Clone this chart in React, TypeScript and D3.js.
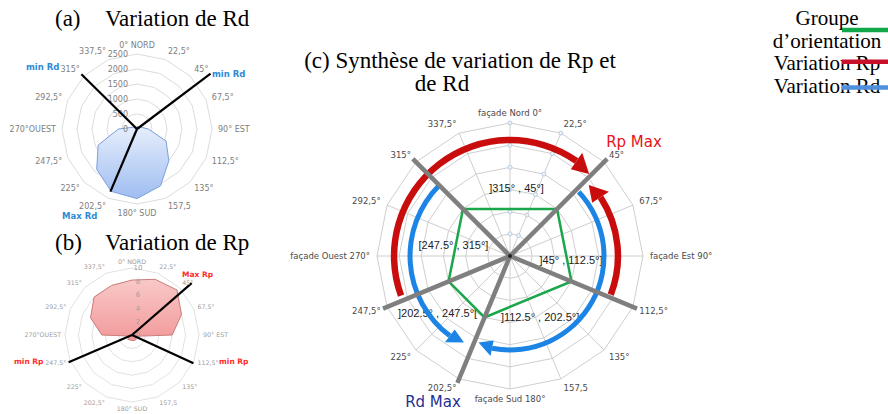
import React from 'react';
import * as d3 from 'd3';

// directions (16 spokes, clockwise from north)
const dirAB = ['0° NORD', '22,5°', '45°', '67,5°', '90° EST', '112,5°', '135°', '157,5', '180° SUD', '202,5°', '225°', '247,5°', '270°OUEST', '292,5°', '315°', '337,5°'];
const dirC = ['façade Nord 0°', '22,5°', '45°', '67,5°', 'façade Est 90°', '112,5°', '135°', '157,5', 'façade Sud 180°', '202,5°', '225°', '247,5°', 'façade Ouest 270°', '292,5°', '315°', '337,5°'];

// (a) Rd per direction
const rdValues = [80, 80, 0, 150, 380, 1050, 1500, 2050, 2320, 2250, 1900, 1400, 620, 150, 0, 60];
const rdTicks = [0, 500, 1000, 1500, 2000, 2500];
const rdMarks = [
  { label: 'min Rd', angle: 314.5, reach: 2600 },
  { label: 'min Rd', angle: 53, reach: 3070 },
  { label: 'Max Rd', angle: 203, reach: 2270 },
];

// (b) Rp per direction
const rpValues = [8.2, 9.0, 9.5, 8.0, 6.0, 0.5, 0.9, 0.9, 0.8, 0.8, 0.9, 0.4, 4.5, 6.7, 8.0, 8.0];
const rpTicks = [0, 2, 4, 6, 8, 10];
const rpMarks = [
  { label: 'Max Rp', angle: 49, reach: 11.8 },
  { label: 'min Rp', angle: 246.7, reach: 10.3 },
  { label: 'min Rp', angle: 114.7, reach: 10.1 },
];

// (c) synthesis
const cLevels = [1, 2, 3, 4, 5, 6];
const groupBounds = [45, 112.5, 202.5, 247.5, 315];
const groupLevel = 3;
const groupNames = [']315° , 45°]', ']45° , 112.5°]', ']112.5° , 202.5°]', ']202.5° , 247.5°[', '[247.5° , 315°]'];
const groupNameAngles = [5.5, 93.8, 153.8, 231.8, 281];
const groupNameLevels = [3.08, 2.76, 3.07, 4.16, 2.6];
const markerDirs = ['façade Nord 0°', '22,5°'];
const rpArrows = [
  { from: 250, to: 35, tip: 44, level: 5.23 },
  { from: 111, to: 57, tip: 48, level: 4.87 },
];
const rdArrows = [
  { from: 47, to: 191, tip: 200, level: 4.24 },
  { from: 315, to: 217, tip: 208, level: 4.51 },
];

const legendItems = [
  { label: 'Groupe', color: '#12a84a', line: true },
  { label: 'd’orientation', color: '', line: false },
  { label: 'Variation Rp', color: '#c8102a', line: true },
  { label: 'Variation Rd', color: '#4f8fdc', line: true },
];

const deg = d3.scaleLinear().domain([0, 360]).range([0, 2 * Math.PI]);
const polar = (a: number, r: number): [number, number] => [r * Math.sin(deg(a)), -r * Math.cos(deg(a))];

function CatLabels({ cats, ang, R, size, color }: any) {
  return (
    <g fontFamily="DejaVu Sans" fontSize={size} fill={color}>
      {cats.map((c: string) => {
        const a = ang(c);
        const [x, y] = polar(a, R);
        const s = Math.sin(deg(a));
        const co = Math.cos(deg(a));
        const anchor = s > 0.05 ? 'start' : s < -0.05 ? 'end' : 'middle';
        return (
          <text key={c} x={x} y={y} dy={`${0.35 - 0.38 * co}em`} textAnchor={anchor}>{c}</text>
        );
      })}
    </g>
  );
}

function ringPath(cats: string[], ang: any, radius: number) {
  return d3.lineRadial<string>()
    .angle(d => deg(ang(d)))
    .radius(radius)
    .curve(d3.curveLinearClosed)(cats) as string;
}

export default function App() {
  // scales
  const angAB = d3.scalePoint<string>().domain(dirAB).range([0, 360 - 360 / dirAB.length]);
  const angC = d3.scalePoint<string>().domain(dirC).range([0, 360 - 360 / dirC.length]);
  const rA = d3.scaleLinear().domain([0, 2500]).range([0, 75]);
  const rB = d3.scaleLinear().domain([0, 10]).range([0, 67]);
  const rC = d3.scaleLinear().domain([0, 6]).range([0, 133]);

  const polyA = d3.lineRadial<number>()
    .angle((_, i) => deg(angAB(dirAB[i])!))
    .radius(d => rA(d))
    .curve(d3.curveLinearClosed)(rdValues) as string;
  const polyB = d3.lineRadial<number>()
    .angle((_, i) => deg(angAB(dirAB[i])!))
    .radius(d => rB(d))
    .curve(d3.curveLinearClosed)(rpValues) as string;
  const polyGroup = d3.lineRadial<number>()
    .angle(d => deg(d))
    .radius(rC(groupLevel))
    .curve(d3.curveLinearClosed)(groupBounds) as string;

  const arcGen = d3.arc<any>();
  const arrow = (d: any, color: string, w: number, head: number, i: number) => {
    const r = rC(d.level);
    const cw = ((d.tip - d.to + 360) % 360) < 180;
    let s = cw ? d.from : d.to;
    let e = cw ? d.to : d.from;
    if (e < s) e += 360;
    const path = arcGen({ innerRadius: r - w / 2, outerRadius: r + w / 2, startAngle: deg(s), endAngle: deg(e) }) as string;
    const [px, py] = polar(d.to, r);
    const nx = Math.sin(deg(d.to));
    const ny = -Math.cos(deg(d.to));
    const [tx, ty] = polar(d.tip, r - 2);
    const tri = `M${px + nx * head},${py + ny * head}L${tx},${ty}L${px - nx * head},${py - ny * head}Z`;
    return (
      <g key={i} fill={color}>
        <path d={path} />
        <path d={tri} />
      </g>
    );
  };

  return (
    <svg width={888} height={414} style={{ position: 'absolute', left: 0, top: 0, background: '#fff' }}>
      <defs>
        <linearGradient id="gradRd" x1="0" y1="0" x2="0" y2="1">
          <stop offset="0" stopColor="#e6eefc" />
          <stop offset="1" stopColor="#9fbdf1" />
        </linearGradient>
        <linearGradient id="gradRp" x1="0" y1="0" x2="0" y2="1">
          <stop offset="0" stopColor="#f9c8c8" />
          <stop offset="1" stopColor="#f29a9a" />
        </linearGradient>
      </defs>

      {/* titles */}
      <g fontFamily="Liberation Serif" fontSize={23} fill="#000">
        <text x={55} y={26}>(a)</text>
        <text x={105} y={26}>Variation de Rd</text>
        <text x={55} y={250}>(b)</text>
        <text x={105} y={250}>Variation de Rp</text>
        <text x={460} y={68} textAnchor="middle">(c) Synthèse de variation de Rp et</text>
        <text x={442} y={91} textAnchor="middle">de Rd</text>
      </g>

      {/* (a) Rd radar */}
      <g transform="translate(137,129)">
        {rdTicks.slice(1).map(t => (
          <path key={t} d={ringPath(dirAB, angAB, rA(t))} fill="none" stroke="#dcdcdc" strokeWidth={1} />
        ))}
        <path d={polyA} fill="url(#gradRd)" stroke="#7b9fd8" strokeWidth={1} />
        <g fontFamily="DejaVu Sans" fontSize={8} fill="#808080" textAnchor="end">
          {rdTicks.map(t => (
            <text key={t} x={-9} y={-rA(t)} dy="0.35em">{t}</text>
          ))}
        </g>
        {rdMarks.map((m, i) => {
          const [x, y] = polar(m.angle, rA(m.reach));
          return <line key={i} x1={0} y1={0} x2={x} y2={y} stroke="#000" strokeWidth={2.2} />;
        })}
        <CatLabels cats={dirAB} ang={angAB} R={rA(2500) + 6} size={8} color="#808080" />
      </g>
      <g fontFamily="DejaVu Sans" fontWeight="bold" fontSize={8.5} fill="#2f8ad6">
        <text x={26} y={70}>{rdMarks[0].label}</text>
        <text x={212} y={77}>{rdMarks[1].label}</text>
        <text x={62} y={219}>{rdMarks[2].label}</text>
      </g>

      {/* (b) Rp radar */}
      <g transform="translate(132,335)">
        {rpTicks.slice(1).map(t => (
          <path key={t} d={ringPath(dirAB, angAB, rB(t))} fill="none" stroke="#e2e2e2" strokeWidth={1} />
        ))}
        <path d={polyB} fill="url(#gradRp)" stroke="#c97c7c" strokeWidth={1} />
        <g fontFamily="DejaVu Sans" fontSize={7} fill="#a0a0a0" textAnchor="middle">
          {rpTicks.map(t => (
            <text key={t} x={6} y={-rB(t)} dy="0.35em">{t}</text>
          ))}
        </g>
        {rpMarks.map((m, i) => {
          const [x, y] = polar(m.angle, rB(m.reach));
          return <line key={i} x1={0} y1={0} x2={x} y2={y} stroke="#000" strokeWidth={2.2} />;
        })}
        <CatLabels cats={dirAB} ang={angAB} R={rB(10) + 4} size={6.3} color="#9c9c9c" />
      </g>
      <g fontFamily="DejaVu Sans" fontWeight="bold" fontSize={7.5} fill="#ff2b2b">
        <text x={182} y={277}>{rpMarks[0].label}</text>
        <text x={14} y={364}>{rpMarks[1].label}</text>
        <text x={219} y={364}>{rpMarks[2].label}</text>
      </g>

      {/* (c) synthesis */}
      <g transform="translate(510,256)">
        {dirC.map(c => {
          const [x, y] = polar(angC(c)!, rC(6));
          return <line key={c} x1={0} y1={0} x2={x} y2={y} stroke="#c8c8c8" strokeWidth={0.9} />;
        })}
        {cLevels.map(l => (
          <path key={l} d={ringPath(dirC, angC, rC(l))} fill="none" stroke="#c8c8c8" strokeWidth={0.9} />
        ))}
        {markerDirs.map(c => cLevels.map(l => {
          const [x, y] = polar(angC(c)!, rC(l));
          return <circle key={c + l} cx={x} cy={y} r={2} fill="#eef3f8" stroke="#a9c3dc" strokeWidth={0.8} />;
        }))}
        <CatLabels cats={dirC} ang={angC} R={rC(6) + 7} size={8.5} color="#4a4a4a" />
        <g fontFamily="Liberation Sans" fontSize={11} fill="#222" textAnchor="middle">
          {groupNames.map((n, i) => {
            const [x, y] = polar(groupNameAngles[i], rC(groupNameLevels[i]));
            return <text key={n} x={x} y={y} dy="0.35em">{n}</text>;
          })}
        </g>
        <path d={polyGroup} fill="none" stroke="#1aa64a" strokeWidth={2.5} />
        {rpArrows.map((d, i) => arrow(d, '#c90d0d', 6.5, 10, i))}
        {rdArrows.map((d, i) => arrow(d, '#1b84e4', 5, 8, i))}
        {groupBounds.map(a => {
          const [x, y] = polar(a, rC(6.2));
          return <line key={a} x1={0} y1={0} x2={x} y2={y} stroke="#7f7f7f" strokeWidth={4.5} />;
        })}
        <circle r={2} fill="#222" />
      </g>
      <g fontFamily="DejaVu Sans" fontSize={15} textAnchor="middle">
        <text x={634} y={147} fill="#e8131b">Rp Max</text>
        <text x={433} y={407} fill="#1f2f96">Rd Max</text>
      </g>

      {/* legend */}
      <g fontFamily="Liberation Serif" fontSize={21} fill="#000">
        {legendItems.map((d, i) => (
          <text key={d.label} x={827} y={25 + i * 22.7} textAnchor="middle">{d.label}</text>
        ))}
        {legendItems.filter(d => d.line).map((d, i) => (
          <line key={d.label} x1={842} x2={888} y1={[30, 61.7, 87.5][i]} y2={[30, 61.7, 87.5][i]} stroke={d.color} strokeWidth={4.5} />
        ))}
      </g>
    </svg>
  );
}
